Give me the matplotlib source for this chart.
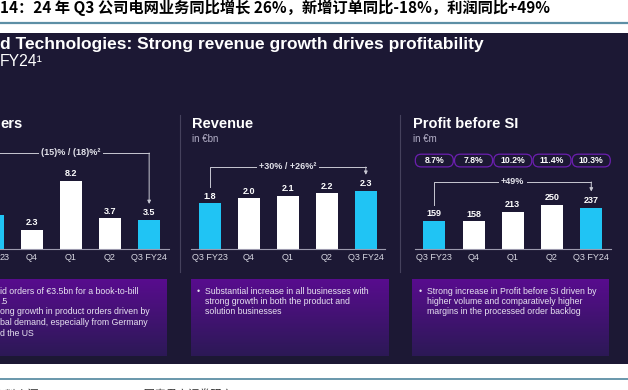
import numpy as np
import matplotlib
matplotlib.use('Agg')
import matplotlib.pyplot as plt
from matplotlib.patches import FancyBboxPatch, Rectangle
from matplotlib.colors import LinearSegmentedColormap

plt.rcParams['font.family'] = ['Liberation Sans', 'Noto Sans CJK SC', 'DejaVu Sans']

W, H = 628, 390

# ---- data ----
quarters = ['Q3 FY23', 'Q4', 'Q1', 'Q2', 'Q3 FY24']
highlight = [True, False, False, False, True]
orders = [4.1, 2.3, 8.2, 3.7, 3.5]
revenue = [1.8, 2.0, 2.1, 2.2, 2.3]
profit = [159, 158, 213, 250, 237]
margins = ['8.7%', '7.8%', '10.2%', '11.4%', '10.3%']
orders_growth = '(15)% / (18)%²'
revenue_growth = '+30% / +26%²'
profit_growth = '+49%'

# texts as far as the cropped screenshot shows them
fig_title = '14：24 年 Q3 公司电网业务同比增长 26%，新增订单同比-18%，利润同比+49%'
slide_title = 'd Technologies: Strong revenue growth drives profitability'
slide_sub = 'FY24¹'
source_text = '资料来源：Siemens Energy，国泰君安证券研究'
orders_notes = ['id orders of €3.5bn for a book-to-bill', '.5',
                'ong growth in product orders driven by',
                'bal demand, especially from Germany', 'd the US']
revenue_notes = ['Substantial increase in all businesses with',
                 'strong growth in both the product and', 'solution businesses']
profit_notes = ['Strong increase in Profit before SI driven by',
                'higher volume and comparatively higher',
                'margins in the processed order backlog']

# ---- colours ----
BG = '#1c1834'
CYAN = '#20c4f4'
TEAL = '#5d8fa5'
LINE = '#c8c8d2'

fig = plt.figure(figsize=(W / 100, H / 100), dpi=100, facecolor='white')
bg = fig.add_axes([0, 0, 1, 1], zorder=0)
bg.axis('off')

# page furniture
bg.text(0, 7.5, fig_title, fontsize=11, weight='bold', va='center', color='black',
        family=['Noto Sans CJK SC', 'DejaVu Sans'])
bg.plot([0, W], [22.5, 22.5], color=TEAL, lw=1.6)
bg.add_patch(Rectangle((0, 33), W, 331, color=BG, lw=0))
bg.plot([0, W], [379, 379], color=TEAL, lw=1.3)
bg.text(-6, 394, source_text, fontsize=8, va='center', color='#333333',
        family=['Noto Sans CJK SC', 'DejaVu Sans'])

bg.text(0, 44, slide_title, fontsize=12.5, weight='bold', color='white', va='center')
bg.text(0, 62, slide_sub, fontsize=11.3, color='white', va='center')

for sx in (180, 400):
    bg.plot([sx, sx], [115, 272], color='#45415c', lw=0.8)

# panel titles
bg.text(0, 124, 'ers', fontsize=10.5, weight='bold', color='white', va='center')
for px, t, u in ((192, 'Revenue', 'in €bn'), (413, 'Profit before SI', 'in €m')):
    bg.text(px, 124, t, fontsize=10.5, weight='bold', color='white', va='center')
    bg.text(px, 139, u, fontsize=7, color='#b4b0c8', va='center')

# text boxes with purple gradient
grad = LinearSegmentedColormap.from_list('box', ['#580c8e', '#2c1956'])
box_top, box_bot = 279, 356
for x0, x1 in ((-40, 167), (191, 389), (412, 609)):
    bg.imshow(np.linspace(0, 1, 100)[:, None], extent=(x0, x1, box_bot, box_top),
              origin='upper', aspect='auto', cmap=grad, zorder=1)

note_kw = dict(fontsize=6.3, color='#e6e2f0', va='center', zorder=2)
for notes, xt, bullets in ((orders_notes, 0, []), (revenue_notes, 205, [0]),
                           (profit_notes, 427, [0])):
    for k, line in enumerate(notes):
        y = 291 + k * 10.5
        if k in bullets:
            bg.text(xt - 8, y, '•', **note_kw)
        bg.text(xt, y, line, **note_kw)

bg.set_xlim(0, W)
bg.set_ylim(H, 0)
bg.set_autoscale_on(False)


def panel(x0, x1, values, ymax, fmt, growth, bracket_px, labels):
    top, base = 140, 249
    ax = fig.add_axes([x0 / W, 1 - base / H, (x1 - x0) / W, (base - top) / H], zorder=2)
    ax.patch.set_alpha(0)
    xs = np.arange(len(values))
    colors = [CYAN if h else 'white' for h in highlight]
    ax.bar(xs, values, width=0.56, color=colors)
    ax.set_xlim(-0.5, len(values) - 0.5)
    ax.set_ylim(0, ymax)
    for s in ('top', 'right', 'left'):
        ax.spines[s].set_visible(False)
    ax.spines['bottom'].set_color('#9c9aae')
    ax.spines['bottom'].set_linewidth(0.8)
    ax.set_yticks([])
    ax.set_xticks(xs)
    ax.set_xticklabels(labels, fontsize=6.5, color='#d8d8e2')
    ax.tick_params(axis='x', length=0, pad=3)
    for x, v in zip(xs, values):
        if x0 + (x + 0.5) * (x1 - x0) / len(values) < 4:
            continue  # value label outside the crop
        ax.annotate(fmt.format(v), (x, v), xytext=(0, 2), textcoords='offset points',
                    ha='center', va='bottom', fontsize=6.5, weight='bold', color='white')
    # growth bracket
    unit = ymax / (base - top)
    hb = bracket_px * unit
    gap = 16 * unit
    ax.plot([xs[0], xs[0], xs[-1]], [values[0] + gap, hb, hb], color=LINE, lw=0.7, clip_on=False)
    ax.annotate('', xy=(xs[-1], values[-1] + gap), xytext=(xs[-1], hb),
                arrowprops=dict(arrowstyle='-|>', color=LINE, lw=0.7, mutation_scale=5,
                                shrinkA=0, shrinkB=0), annotation_clip=False)
    ax.text(xs[len(xs) // 2], hb, growth, ha='center', va='center', fontsize=6.5, weight='bold',
            color='#e2e2ea', bbox=dict(facecolor=BG, edgecolor='none', pad=1.5), clip_on=False)
    return ax


# left panel is cut by the screenshot: only "23" of the first tick label shows
panel(-26.8, 168.7, orders, 13.15, '{:.1f}', orders_growth, 96, [''] + quarters[1:])
bg.text(0, 257.7, quarters[0][-2:], fontsize=6.5, color='#d8d8e2', va='center')
panel(190.5, 385.3, revenue, 4.31, '{:.1f}', revenue_growth, 82, quarters)
ax_p = panel(414.7, 610.9, profit, 623, '{:d}', profit_growth, 67, quarters)

# margin pills above the profit bars
for i, m in enumerate(margins):
    dx, _ = ax_p.transData.transform((i, 0))
    cx = bg.transData.inverted().transform((dx, 0))[0]
    bg.add_patch(FancyBboxPatch((cx - 19, 154.2), 38, 12.7,
                                boxstyle='round,pad=0,rounding_size=6',
                                facecolor=BG, edgecolor='#6c1fb0', lw=0.9, zorder=3))
    bg.text(cx, 160.5, m, ha='center', va='center', fontsize=6.2, weight='bold',
            color='white', zorder=4)

fig.savefig('out.png', dpi=100, facecolor='white')
